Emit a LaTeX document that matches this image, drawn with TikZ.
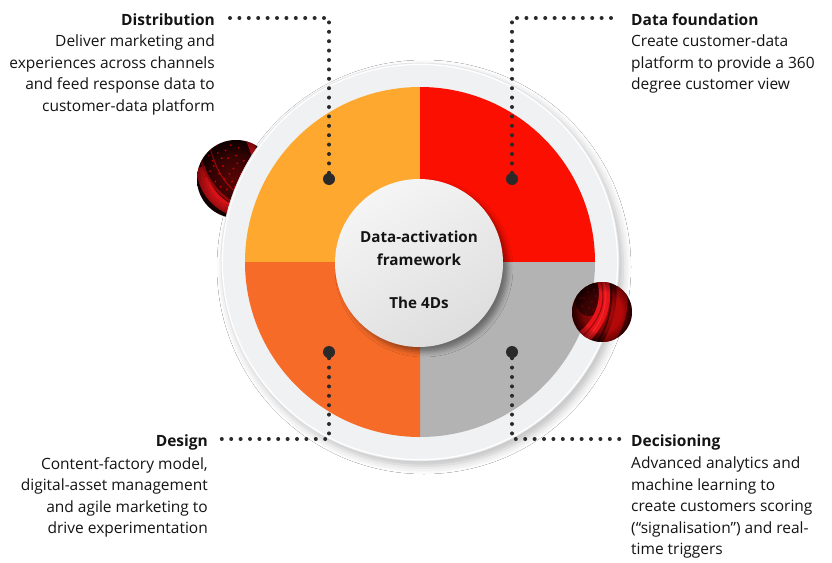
\documentclass[tikz,border=0pt]{standalone}
\usepackage{fontspec}
\setmainfont{Open Sans}
\usetikzlibrary{shadows.blur}

\definecolor{segYellow}{HTML}{FEA82F}
\definecolor{segRed}{HTML}{FA0F00}
\definecolor{segOrange}{HTML}{F76B28}
\definecolor{segGray}{HTML}{B3B3B3}
\definecolor{ringGray}{HTML}{F0F1F3}
\definecolor{ringEdge}{HTML}{E2E3E6}
\definecolor{dotGray}{HTML}{2A2A2A}
\definecolor{inkBlack}{HTML}{141414}
\definecolor{marbleRed}{HTML}{C80A0A}
\definecolor{marbleBright}{HTML}{E8141A}
\definecolor{marbleDark}{HTML}{1A0203}

\tikzset{
  titleR/.style={font=\fontsize{15.5}{19}\selectfont\bfseries, text=inkBlack, inner sep=0pt, anchor=east},
  titleL/.style={font=\fontsize{15.5}{19}\selectfont\bfseries, text=inkBlack, inner sep=0pt, anchor=west},
  bodyR/.style={font=\fontsize{15.5}{21.5}\selectfont, text=inkBlack, inner sep=0pt, align=right, anchor=north east},
  bodyL/.style={font=\fontsize{15.5}{21.5}\selectfont, text=inkBlack, inner sep=0pt, align=left, anchor=north west},
  enddot/.style={circle, fill=dotGray, inner sep=0pt, minimum size=12pt},
  dotline/.style={draw=dotGray, line width=4pt, line cap=round, dash pattern=on 0pt off 9.4pt},
  speck/.style={fill=red!80!black},
}

% darkened rim of a sphere of radius 30 (local units)
\newcommand\sphererim{%
  \foreach \rr in {21,23,25,27,28.5}
    \fill[black, opacity=.09, even odd rule] (0,0) circle (30.5) (0,0) circle (\rr);}

\begin{document}
\begin{tikzpicture}[x=1pt, y=-1pt]
  \useasboundingbox (0,0) rectangle (832,562);
  \fill[white] (0,0) rectangle (832,562);

  % dark marbled sphere, half hidden behind the ring (local units: radius 30, y downwards)
  \begin{scope}[shift={(236,179)}, scale=1.3]
    \shade[inner color=marbleRed!45!black, outer color=marbleDark] (0,0) circle (30);
    \begin{scope}
      \clip (0,0) circle (30);
      \fill[marbleBright, opacity=.9] (-31,-8) .. controls (-28,16) and (-12,28) .. (8,31)
        -- (10,24) .. controls (-8,20) and (-20,10) .. (-24,-10) -- cycle;
      \draw[marbleRed!85!black, line width=2.5pt, opacity=.8] (-28,-18) .. controls (-22,4) and (-10,18) .. (12,24);
      \draw[marbleRed, line width=1.2pt, opacity=.7] (-20,-24) .. controls (-14,-2) and (-4,12) .. (16,18);
      \draw[marbleBright, line width=7pt, opacity=.85] (10,-31) .. controls (19,-10) and (21,10) .. (14,31);
      \foreach \sx/\sy in {-18/-14,-14/-20,-20/-6,-10/-10,-16/2,-8/-22,-12/6,-24/-2,-6/-16,
                           -4/-26,-13/-4,-21/-18,-9/0,-2/-8,-15/-26,-7/8,0/-18,4/-4,-3/2,2/-24,6/-14,
                           -11/-16,-5/-4,-17/-10,1/-12,-1/6}
        \fill[speck] (\sx,\sy) circle (.8);
      \sphererim
    \end{scope}
  \end{scope}

  % outer ring with its soft shadow
  \fill[ringGray, draw=ringEdge, line width=.6pt,
        blur shadow={shadow xshift=4pt, shadow yshift=-5pt, shadow blur radius=8pt, shadow opacity=25}]
    (420,262) circle (199);
  \draw[white, line width=1.2pt] (420,262) circle (197.6);

  % the four quarters
  \fill[segYellow] (420,262) -- ++(180:175) arc[start angle=180, end angle=270, radius=175] -- cycle;
  \fill[segRed]    (420,262) -- ++(270:175) arc[start angle=270, end angle=360, radius=175] -- cycle;
  \fill[segGray]   (420,262) -- ++(0:175)   arc[start angle=0,   end angle=90,  radius=175] -- cycle;
  \fill[segOrange] (420,262) -- ++(90:175)  arc[start angle=90,  end angle=180, radius=175] -- cycle;

  % centre disc
  \shade[top color=white!96!black, bottom color=white!87!black, shading angle=30,
         blur shadow={shadow xshift=5pt, shadow yshift=-5pt, shadow blur radius=5pt, shadow opacity=40}]
    (419,263) circle (84);
  \node[font=\fontsize{15.2}{23}\selectfont\bfseries, text=inkBlack, align=center, inner sep=0pt]
    (core) at (419,270) {Data-activation\\framework\\[20pt]The 4Ds};

  % labels
  \node[titleR] (tDist) at (215,20) {Distribution};
  \node[bodyR] (bDist) at (215,35) {Deliver marketing and\\experiences across channels\\and feed response data to\\customer-data platform};

  \node[titleL] (tFound) at (631,20) {Data foundation};
  \node[bodyL] (bFound) at (631,35) {Create customer-data\\platform to provide a 360\\degree customer view};

  \node[titleR] (tDesign) at (208,442) {Design};
  \node[bodyR] (bDesign) at (208,457) {Content-factory model,\\digital-asset management\\and agile marketing to\\drive experimentation};

  \node[titleL] (tDec) at (631,442) {Decisioning};
  \node[bodyL] (bDec) at (631,457) {Advanced analytics and\\machine learning to\\create customers scoring\\(“signalisation”) and real-\\time triggers};

  % leader lines
  \node[enddot] (dDist)   at (329,179) {};
  \node[enddot] (dFound)  at (512,179) {};
  \node[enddot] (dDesign) at (329,352) {};
  \node[enddot] (dDec)    at (512,352) {};

  \coordinate (eDist)   at (227,18);
  \coordinate (eFound)  at (612,18);
  \coordinate (eDesign) at (221.5,439);
  \coordinate (eDec)    at (619.5,439);

  \draw[dotline] (dDist)   |- (eDist);
  \draw[dotline] (dFound)  |- (eFound);
  \draw[dotline] (dDesign) |- (eDesign);
  \draw[dotline] (dDec)    |- (eDec);

  % red marbled sphere resting on the ring
  \begin{scope}[shift={(602,312)}]
    \shade[inner color=marbleRed, outer color=marbleRed!35!black] (0,0) circle (30);
    \begin{scope}
      \clip (0,0) circle (30);
      \fill[marbleDark, opacity=.7] (-13,-13) ellipse (14 and 17);
      \fill[marbleBright] (-5,-32) .. controls (1,-10) and (-8,10) .. (-26,22)
        -- (-14,31) .. controls (3,14) and (12,-8) .. (7,-32) -- cycle;
      \fill[marbleRed!90!black] (14,-31) .. controls (17,-5) and (10,15) .. (0,32)
        -- (11,32) .. controls (25,12) and (27,-8) .. (25,-24) -- cycle;
      \draw[marbleDark, line width=1.8pt, opacity=.6] (8,-31) .. controls (12,-5) and (5,15) .. (-5,31);
      \draw[marbleRed!55!black, line width=1pt, opacity=.7] (-1,-30) .. controls (5,-8) and (-3,8) .. (-19,24);
      \draw[red!70!white, line width=1.2pt, opacity=.35] (2,-30) .. controls (7,-8) and (0,10) .. (-14,26);
      \foreach \sx/\sy in {-18/-14,-14/-20,-20/-6,-10/-10,-16/2,-8/-22,-24/-2,-6/-16,
                           -13/-4,-21/-14,-9/-2,-15/-24,-3/-12}
        \fill[speck] (\sx,\sy) circle (.6);
      \sphererim
    \end{scope}
  \end{scope}
\end{tikzpicture}
\end{document}
